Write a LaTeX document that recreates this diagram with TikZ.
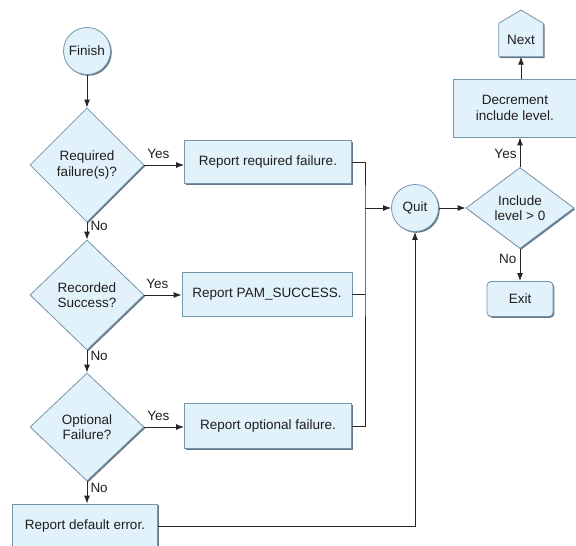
\documentclass[tikz,border=0pt]{standalone}
\usepackage{fontspec}
\setmainfont{Liberation Sans}
\usetikzlibrary{shapes.geometric,arrows.meta,shadows}
\definecolor{boxfill}{HTML}{E2F2FA}
\definecolor{boxline}{HTML}{7595AA}
\definecolor{shade}{HTML}{55687A}
\definecolor{txt}{HTML}{1E1E1E}
\tikzset{
  base/.style={draw=boxline, fill=boxfill, line width=0.8pt, text=txt, font=\fontsize{13.5}{15.5}\selectfont, align=center,
    drop shadow={shadow xshift=1.3pt, shadow yshift=-1.3pt, fill=shade, opacity=0.9}},
  procbox/.style={base, rectangle, inner sep=0pt},
  decide/.style={base, diamond, inner sep=0pt},
  endpt/.style={base, circle, inner sep=0pt, minimum size=47pt},
  conn/.style={line width=1pt, draw=black!85},
  arr/.style={conn, -{Latex[length=8pt,width=6pt]}},
  lbl/.style={font=\fontsize{13.5}{15.5}\selectfont, text=txt, inner sep=1pt}
}
\begin{document}
\begin{tikzpicture}[x=1pt,y=-1pt]
\useasboundingbox (0,0) rectangle (576,546);
% left column
\node[endpt] (finish) at (87,51) {Finish};
\node[decide, minimum width=114pt, minimum height=114pt] (d1) at (87,165) {Required\\failure(s)?};
\node[decide, minimum width=114pt, minimum height=110pt] (d2) at (87,295) {Recorded\\Success?};
\node[decide, minimum width=114pt, minimum height=108pt] (d3) at (87,427) {Optional\\Failure?};
\node[procbox, minimum width=145pt, minimum height=44pt] (def) at (85,526) {Report default error.};
% middle column
\node[procbox, minimum width=167pt, minimum height=43pt] (r1) at (268,162) {Report required failure.};
\node[procbox, minimum width=170pt, minimum height=44pt] (r2) at (267,294) {Report PAM\_SUCCESS.};
\node[procbox, minimum width=167pt, minimum height=45pt] (r3) at (268,426) {Report optional failure.};
% right part
\node[endpt] (quit) at (415,208) {Quit};
\node[decide, minimum width=108pt, minimum height=81pt, aspect=1.33] (inc) at (520,208) {Include\\level > 0};
\node[procbox, minimum width=123pt, minimum height=58pt] (dec) at (515,108) {Decrement\\include level.};
\node[procbox, rounded corners=4pt, minimum width=66pt, minimum height=35pt] (exit) at (520,299) {Exit};
\node[lbl, minimum width=44pt, minimum height=33pt] (next) at (521,40) {Next};
\draw[base] (next.south west) -- (next.north west) -- (521,10) -- (next.north east) -- (next.south east) -- cycle;
\node[lbl] at (next) {Next};
\coordinate (j) at (365,208);
% connectors
\draw[arr] (finish) -- (d1);
\draw[arr] (d1.east) -- (d1.east -| r1.west) node[lbl, pos=0.35, above=5pt] {Yes};
\draw[arr] (d1.south) -- (d2.north) node[lbl, pos=0.2, right=2pt] {No};
\draw[arr] (d2.east) -- (d2.east -| r2.west) node[lbl, pos=0.35, above=5pt] {Yes};
\draw[arr] (d2.south) -- (d3.north) node[lbl, pos=0.25, right=2pt] {No};
\draw[arr] (d3.east) -- (d3.east -| r3.west) node[lbl, pos=0.35, above=5pt] {Yes};
\draw[arr] (d3.south) -- (d3.south |- def.north) node[lbl, pos=0.3, right=2pt] {No};
\draw[conn] (r1.east) -| (j) |- (r3.east);
\draw[conn] (r2.east) -- (r2.east -| j);
\draw[arr] (j) -- (quit.west);
\draw[arr] (def.east) -| (quit.south);
\draw[arr] (quit.east) -- (inc.west);
\draw[arr] (inc.north) -- (inc.north |- dec.south) node[lbl, pos=0.45, left=2pt] {Yes};
\draw[arr] (dec.north -| next.south) -- (next.south);
\draw[arr] (inc.south) -- (exit.north) node[lbl, pos=0.3, left=2pt] {No};
\end{tikzpicture}
\end{document}
